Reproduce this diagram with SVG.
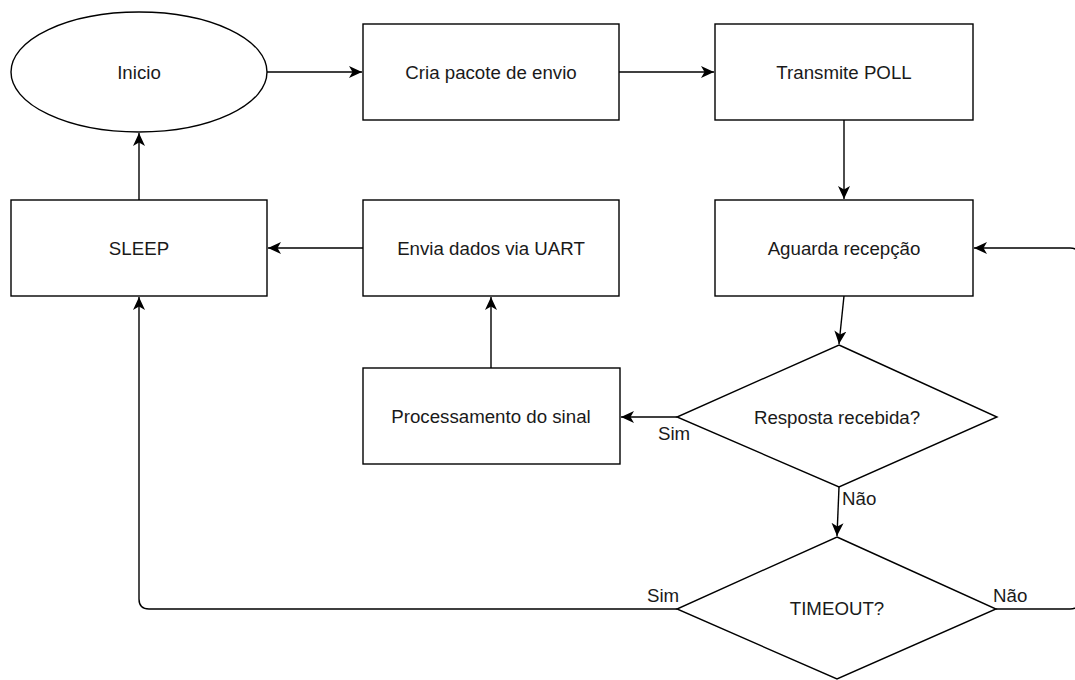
<svg xmlns="http://www.w3.org/2000/svg" width="1075" height="680" viewBox="0 0 1075 680">
  <style>
    .shape { fill: #ffffff; stroke: #000000; stroke-width: 1.4; }
    .edge { fill: none; stroke: #000000; stroke-width: 1.4; }
    .label { font-family: "Liberation Sans", Arial, sans-serif; font-size: 18.7px; fill: #1a1a1a; text-anchor: middle; dominant-baseline: central; }
    .edge-label { font-family: "Liberation Sans", Arial, sans-serif; font-size: 18.7px; fill: #1a1a1a; }
  </style>
  <defs>
    <marker id="arrow" markerUnits="userSpaceOnUse" markerWidth="16" markerHeight="14" refX="13" refY="6" orient="auto">
      <path d="M0,0 L13,6 L0,12 L3.5,6 Z" fill="#000000"/>
    </marker>
  </defs>
  <rect width="1075" height="680" fill="#ffffff"/>

  <g id="connectors">
    <line class="edge" x1="267" y1="72" x2="362" y2="72" marker-end="url(#arrow)"/>
    <line class="edge" x1="619" y1="72" x2="714" y2="72" marker-end="url(#arrow)"/>
    <line class="edge" x1="844" y1="120" x2="844" y2="199" marker-end="url(#arrow)"/>
    <line class="edge" x1="844" y1="296" x2="839" y2="344" marker-end="url(#arrow)"/>
    <line class="edge" x1="677" y1="417" x2="621" y2="417" marker-end="url(#arrow)"/>
    <line class="edge" x1="491" y1="368" x2="491" y2="297" marker-end="url(#arrow)"/>
    <line class="edge" x1="363" y1="248" x2="268" y2="248" marker-end="url(#arrow)"/>
    <line class="edge" x1="139" y1="200" x2="139" y2="133" marker-end="url(#arrow)"/>
    <line class="edge" x1="839" y1="487" x2="837" y2="536" marker-end="url(#arrow)"/>
    <path class="edge" d="M677,609 H149 Q139,609 139,599 V297" marker-end="url(#arrow)"/>
    <path class="edge" d="M996,609 H1070 Q1080,609 1080,599 V258 Q1080,248 1070,248 H974" marker-end="url(#arrow)"/>
    <text class="edge-label" x="658" y="440">Sim</text>
    <text class="edge-label" x="842" y="505">Não</text>
    <text class="edge-label" x="647" y="602">Sim</text>
    <text class="edge-label" x="993" y="602">Não</text>
  </g>

  <g id="inicio">
    <ellipse class="shape" cx="139" cy="72" rx="128" ry="60"/>
    <text class="label" x="139" y="72">Inicio</text>
  </g>
  <g id="cria-pacote">
    <rect class="shape" x="363" y="24" width="256" height="96"/>
    <text class="label" x="491" y="72">Cria pacote de envio</text>
  </g>
  <g id="transmite-poll">
    <rect class="shape" x="715" y="24" width="258" height="96"/>
    <text class="label" x="844" y="72">Transmite POLL</text>
  </g>
  <g id="aguarda-recepcao">
    <rect class="shape" x="715" y="200" width="258" height="96"/>
    <text class="label" x="844" y="248">Aguarda recepção</text>
  </g>
  <g id="sleep">
    <rect class="shape" x="11" y="200" width="256" height="96"/>
    <text class="label" x="139" y="248">SLEEP</text>
  </g>
  <g id="envia-dados">
    <rect class="shape" x="363" y="200" width="256" height="96"/>
    <text class="label" x="491" y="248">Envia dados via UART</text>
  </g>
  <g id="processamento">
    <rect class="shape" x="363" y="368" width="257" height="96"/>
    <text class="label" x="491" y="416">Processamento do sinal</text>
  </g>
  <g id="resposta-recebida">
    <polygon class="shape" points="839,345 997,417 839,487 677,417"/>
    <text class="label" x="837" y="417">Resposta recebida?</text>
  </g>
  <g id="timeout">
    <polygon class="shape" points="837,537 996,609 837,679 677,609"/>
    <text class="label" x="837" y="608">TIMEOUT?</text>
  </g>
</svg>
